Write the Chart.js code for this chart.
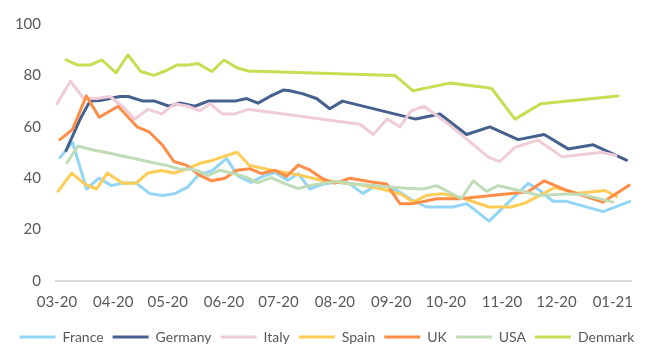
<!DOCTYPE html>
<html>
<head>
<meta charset="utf-8">
<script src="https://cdn.jsdelivr.net/npm/chart.js@4.4.1/dist/chart.umd.min.js"></script>
<style>
  html, body { margin: 0; padding: 0; background: #ffffff; }
  #wrap { width: 654px; height: 356px; position: relative; }
</style>
</head>
<body>
<div id="wrap"><canvas id="c" width="654" height="356"></canvas></div>
<script>
// x values are days since 1 March 2020
const tickDays   = [0, 31, 61, 92, 122, 153, 184, 214, 245, 275, 306];
const tickLabels = ["03-20","04-20","05-20","06-20","07-20","08-20","09-20","10-20","11-20","12-20","01-21"];
const yTicks     = [0, 20, 40, 60, 80, 100];

const seriesNames  = ["France","Germany","Italy","Spain","UK","USA","Denmark"];
const seriesColors = ["#92d5f5","#46608f","#f0ccd7","#ffcc55","#ff8c47","#c0dcb6","#c9dc52"];

const franceDays = [1.7, 8.6, 16.3, 23.2, 30, 36.5, 43.5, 51.2, 58.2, 64.9, 71.7, 78.3, 85.2, 93.4, 99.6, 107, 113.4, 120, 127, 132.9, 139.2, 146.6, 153.9, 161.3, 168.4, 174.1, 181.5, 188.8, 195.2, 203.5, 218.1, 225.5, 237.9, 259.4, 265.8, 273.1, 280.5, 300.7, 315.4];
const franceVals = [48, 54, 35.8, 40, 37.1, 38.1, 38.1, 34, 33.3, 34, 36.4, 41.5, 42.8, 47.7, 40.9, 38.4, 40.7, 42.2, 39.2, 41.7, 35.8, 37.7, 38.4, 37.7, 34.1, 36.5, 37.1, 34.5, 31.6, 28.8, 28.8, 30.1, 23.3, 38, 35.2, 31, 31, 27, 31];

const germanyDays = [5, 12.8, 18.2, 23.7, 29.2, 34.7, 39.3, 47.5, 53.9, 61.8, 67.7, 75.9, 83.3, 89.7, 98, 104.4, 110.7, 117.2, 124.6, 128.2, 135.5, 142.9, 150.2, 157.2, 197.5, 210.8, 225.5, 238.3, 253.9, 268.2, 281.4, 295.2, 313.5];
const germanyVals = [50.7, 63, 70, 70.2, 71, 71.8, 71.8, 70, 70, 68, 69.3, 68, 70, 70, 70, 71, 69.2, 71.8, 74.3, 74, 72.8, 71, 67, 70, 63, 65, 57, 60, 55, 57, 51.4, 53, 47];

const italyDays = [0, 7.5, 14.5, 21.8, 29.2, 36.3, 42.9, 50.1, 57.8, 64.9, 72.1, 78.7, 84.2, 91.2, 98, 105.3, 166.8, 174.1, 181.8, 188.8, 195, 202, 214.5, 237.9, 243.8, 252.1, 264.9, 278.1, 299.8, 307.7];
const italyVals = [69, 77.7, 71.2, 71, 71.8, 67.8, 63, 66.8, 65, 69, 68, 66.2, 69, 65, 65, 66.8, 61, 57, 63, 60, 66.2, 68, 61.6, 48, 46.5, 52, 54.8, 48.3, 50.1, 48.8];

const spainDays = [0.7, 8.1, 15.4, 21.8, 27.7, 36.2, 43.5, 49.9, 57.6, 64.4, 71.4, 78.7, 86, 92.4, 99.2, 105.8, 112.6, 119, 125.5, 133.7, 144.7, 155.8, 166.8, 178.7, 189.7, 196.1, 203.5, 212, 223.6, 237.9, 250.2, 257.6, 265.8, 274.1, 286.9, 301.6, 308];
const spainVals = [35, 42, 37.7, 35.8, 42, 38, 38, 42, 43, 42, 43.5, 45.8, 47, 48.6, 50.1, 45, 44, 43, 42.2, 41.2, 39.3, 38.4, 37.4, 35.8, 33.7, 30.7, 33.3, 34, 32.2, 28.8, 28.8, 30.3, 33.3, 36.4, 34.1, 35.2, 32.9];

const ukDays = [1.7, 8.6, 16.2, 23.3, 33.7, 44.1, 50.8, 58.2, 64.4, 71.5, 78.3, 85.2, 92.5, 99, 106.2, 112.6, 120, 126.4, 132.8, 139.2, 146.5, 153, 158.5, 161.3, 174.1, 181.5, 188.8, 196.1, 209, 221.8, 259.4, 268.2, 280.5, 300.7, 315];
const ukVals = [55, 59, 72, 63.7, 68, 60, 58, 52.8, 46.5, 45, 41.2, 39, 40, 43.1, 43.7, 41.8, 43.1, 40.7, 45.1, 43.2, 39.7, 38.1, 39.3, 40, 38.4, 37.7, 30.1, 30.1, 32, 32, 34.7, 39, 35.3, 30.7, 37.3];

const usaDays = [5.5, 11.6, 19.9, 27.3, 34.7, 43.9, 51.2, 60.4, 67.7, 73.2, 78.7, 83.1, 89.9, 97, 103.8, 110.4, 117.9, 126.1, 132.9, 140.2, 148.3, 155, 164.9, 174.1, 182.6, 192.5, 201.6, 209, 222.7, 229.1, 236.5, 242.9, 252.1, 265.8, 280.5, 288.8, 306.2];
const usaVals = [46, 52.5, 51, 50, 48.8, 47.5, 46.3, 45, 43.5, 43.7, 42.6, 41, 43.1, 41.8, 40.5, 38.2, 40.2, 37.7, 36, 37.3, 38.2, 38.7, 37.7, 37.2, 36.6, 36.1, 35.8, 37.1, 32, 39, 34.9, 37.1, 35.6, 33.3, 33.9, 33.7, 30.7];

const denmarkDays = [5, 11.6, 18.2, 24.8, 32.5, 39.1, 46.2, 53.4, 60.5, 66, 71.8, 77.6, 85.3, 91.9, 99.1, 105.3, 186, 196.1, 216.3, 239.2, 252.1, 266.4, 308.9];
const denmarkVals = [86, 84, 84, 86, 81, 88, 81.5, 80, 82, 84, 84, 84.6, 81.5, 86, 83, 81.7, 80, 74, 77, 75, 63, 69, 72];

const allDays = [franceDays, germanyDays, italyDays, spainDays, ukDays, usaDays, denmarkDays];
const allVals = [franceVals, germanyVals, italyVals, spainVals, ukVals, usaVals, denmarkVals];

const FONT = "Lato, 'Liberation Sans', sans-serif";
const TEXT = "#595959";

const datasets = seriesNames.map((name, i) => ({
  label: name,
  data: allDays[i].map((d, k) => ({ x: d, y: allVals[i][k] })),
  borderColor: seriesColors[i],
  backgroundColor: seriesColors[i],
  borderWidth: 3,
  pointRadius: 0,
  pointHoverRadius: 0,
  tension: 0,
  fill: false,
  borderJoinStyle: 'round',
  borderCapStyle: 'round',
  order: seriesNames.length - 1 - i
}));

new Chart(document.getElementById('c'), {
  type: 'line',
  data: { datasets },
  options: {
    responsive: false,
    animation: false,
    devicePixelRatio: 1,
    layout: { padding: { left: 0, right: 0, top: 20, bottom: 2 } },
    plugins: {
      tooltip: { enabled: false },
      legend: {
        position: 'bottom',
        labels: {
          color: TEXT,
          font: { family: FONT, size: 14 },
          boxWidth: 36,
          boxHeight: 3,
          padding: 9,
          generateLabels: (chart) => chart.data.datasets.map((ds, i) => ({
            text: ds.label,
            fillStyle: ds.borderColor,
            strokeStyle: ds.borderColor,
            lineWidth: 0,
            fontColor: TEXT,
            hidden: false,
            datasetIndex: i
          }))
        }
      }
    },
    scales: {
      x: {
        type: 'linear',
        min: -0.5,
        max: 316,
        afterBuildTicks: (scale) => { scale.ticks = tickDays.map(v => ({ value: v })); },
        afterFit: (scale) => { scale.height = 40; },
        ticks: {
          color: TEXT,
          font: { family: FONT, size: 15 },
          padding: 12,
          maxRotation: 0,
          autoSkip: false,
          callback: (v) => { const k = tickDays.indexOf(v); return k >= 0 ? tickLabels[k] : ''; }
        },
        grid: { display: false, drawTicks: false },
        border: { display: true, color: '#d9d9d9', width: 2 }
      },
      y: {
        type: 'linear',
        position: 'left',
        min: 0,
        max: 100,
        afterBuildTicks: (scale) => { scale.ticks = yTicks.map(v => ({ value: v })); },
        afterFit: (scale) => { scale.width = 56; },
        ticks: {
          color: TEXT,
          font: { family: FONT, size: 15 },
          padding: 15
        },
        grid: { display: false, drawTicks: false },
        border: { display: false }
      },
      yRight: {
        type: 'linear',
        position: 'right',
        min: 0,
        max: 100,
        afterFit: (scale) => { scale.width = 23; },
        ticks: { display: false },
        grid: { display: false, drawTicks: false },
        border: { display: false }
      }
    }
  }
});
</script>
</body>
</html>
